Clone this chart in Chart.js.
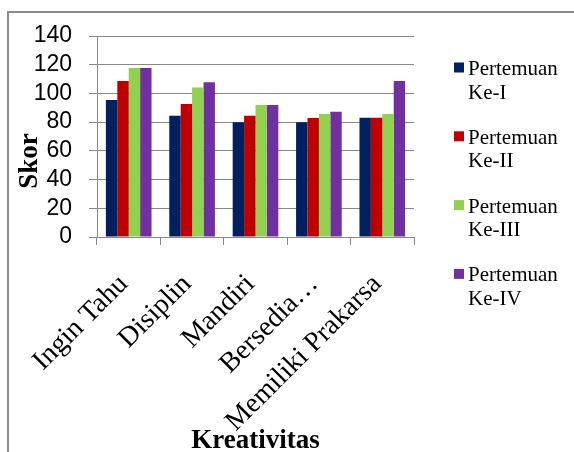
<!DOCTYPE html>
<html>
<head>
<meta charset="utf-8">
<script src="https://cdn.jsdelivr.net/npm/chart.js@4.4.1/dist/chart.umd.min.js"></script>
<style>
  html, body { margin: 0; padding: 0; background: #ffffff; }
  #wrap { position: relative; width: 574px; height: 452px; overflow: hidden; }
  #frame { position: absolute; left: 7px; top: 11px; width: 640px; height: 560px; border: 2px solid #8c8c8c; }
  canvas { position: absolute; left: 0; top: 0; }
</style>
</head>
<body>
<div id="wrap">
  <div id="frame"></div>
  <canvas id="chart" width="574" height="452"></canvas>
</div>
<script>
// Kreativitas categories and the score for each meeting
const categories = ['Ingin Tahu', 'Disiplin', 'Mandiri', 'Bersedia\u2026', 'Memiliki Prakarsa'];
const seriesLabels = [['Pertemuan', 'Ke-I'], ['Pertemuan', 'Ke-II'], ['Pertemuan', 'Ke-III'], ['Pertemuan', 'Ke-IV']];
const pertemuanKe1 = [95.4, 84.5, 80.0, 80.0, 83.0];
const pertemuanKe2 = [108.6, 92.7, 84.5, 82.9, 83.0];
const pertemuanKe3 = [117.7, 104.2, 92.0, 85.7, 85.7];
const pertemuanKe4 = [117.7, 107.7, 92.0, 87.3, 108.6];
const yTickValues = [0, 20, 40, 60, 80, 100, 120, 140];
const seriesColors = ['#002060', '#c00000', '#92d050', '#7030a0'];

const seriesValues = [pertemuanKe1, pertemuanKe2, pertemuanKe3, pertemuanKe4];
const gridGray = '#888888';
const serif = "'Liberation Serif', 'Times New Roman', serif";
const sans = "'Liberation Sans', Arial, sans-serif";

// Axis titles and the two-line legend on the right
const decorations = {
  id: 'decorations',
  afterDraw(chart) {
    const ctx = chart.ctx;
    const area = chart.chartArea;
    ctx.save();
    ctx.fillStyle = '#000000';

    // y axis title
    ctx.font = `bold 27px ${serif}`;
    ctx.textAlign = 'center';
    ctx.textBaseline = 'middle';
    ctx.save();
    ctx.translate(30, 161);
    ctx.rotate(-Math.PI / 2);
    ctx.fillText('Skor', 0, 0);
    ctx.restore();

    // x axis title, centred under the plot
    ctx.font = `bold 27px ${serif}`;
    ctx.textBaseline = 'alphabetic';
    ctx.fillText('Kreativitas', (area.left + area.right) / 2, 448);

    // legend
    ctx.font = `21px ${serif}`;
    ctx.textAlign = 'left';
    ctx.textBaseline = 'middle';
    const legendX = 454;
    const firstY = 69.5;
    const step = 68.8;
    chart.data.datasets.forEach((ds, i) => {
      const y = firstY + i * step;
      ctx.fillStyle = ds.backgroundColor;
      ctx.fillRect(legendX, y - 7, 10, 10);
      ctx.fillStyle = '#000000';
      ds.label.forEach((line, j) => {
        ctx.fillText(line, legendX + 14, y + j * 23.5);
      });
    });
    ctx.restore();
  }
};

new Chart(document.getElementById('chart'), {
  type: 'bar',
  data: {
    labels: categories,
    datasets: seriesValues.map((vals, i) => ({
      label: seriesLabels[i],
      data: vals,
      backgroundColor: seriesColors[i],
      borderWidth: 0,
      categoryPercentage: 0.72,
      barPercentage: 1.0
    }))
  },
  options: {
    responsive: false,
    animation: false,
    devicePixelRatio: 1,
    layout: { padding: { left: 0, right: 160, top: 36, bottom: 0 } },
    plugins: {
      legend: { display: false },
      tooltip: { enabled: false },
      title: { display: false }
    },
    scales: {
      x: {
        grid: {
          display: true,
          offset: true,
          drawOnChartArea: false,
          drawTicks: true,
          tickLength: 8,
          color: gridGray,
          lineWidth: 1
        },
        border: { display: true, color: gridGray, width: 1 },
        ticks: {
          autoSkip: false,
          minRotation: 45,
          maxRotation: 45,
          padding: 18,
          color: '#000000',
          font: { family: serif, size: 28 },
          // a trailing space keeps the rotated text clear of the tick mark
          callback: (value, index) => categories[index] + ' '
        },
        afterFit(scale) { scale.height = 215; }
      },
      y: {
        min: 0,
        max: 140,
        afterBuildTicks(scale) { scale.ticks = yTickValues.map(v => ({ value: v })); },
        grid: {
          color: gridGray,
          lineWidth: 1,
          drawTicks: true,
          tickLength: 8
        },
        border: { display: true, color: gridGray, width: 1 },
        ticks: {
          autoSkip: false,
          padding: 17,
          color: '#000000',
          font: { family: sans, size: 23 }
        },
        afterFit(scale) { scale.width = 97; }
      }
    }
  },
  plugins: [decorations]
});
</script>
</body>
</html>
